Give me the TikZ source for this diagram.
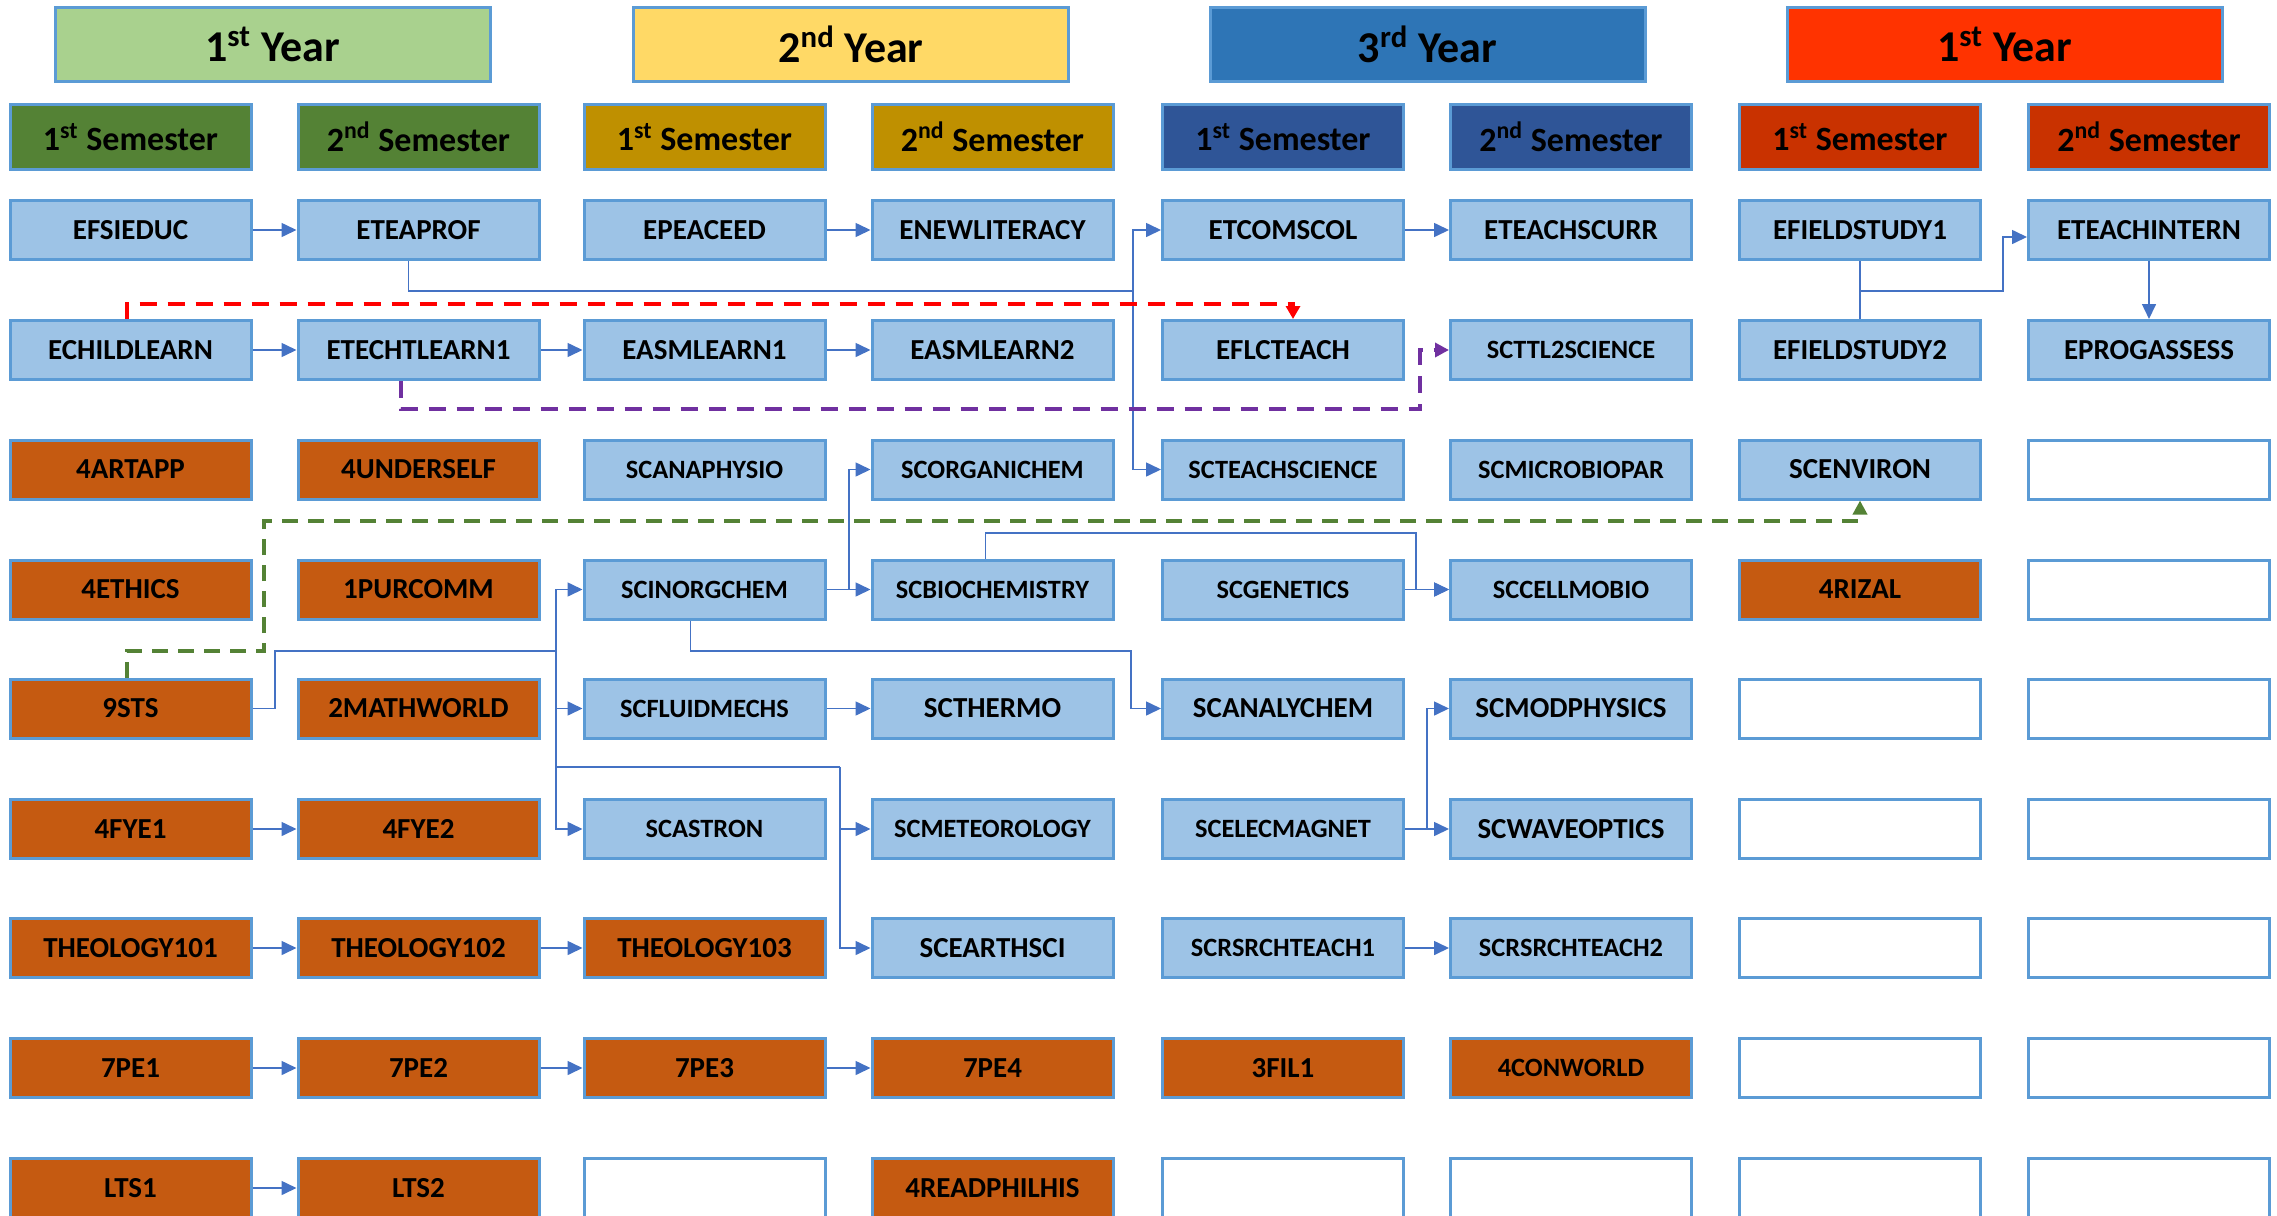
\documentclass[tikz,border=0pt]{standalone}
\usepackage{fontspec}
\setmainfont{Carlito}
\usetikzlibrary{arrows.meta}
\definecolor{bd}{HTML}{5B9BD5}
\definecolor{lb}{HTML}{9DC3E6}
\definecolor{orc}{HTML}{C55A11}
\definecolor{cn}{HTML}{4472C4}
\definecolor{yA}{HTML}{A9D18E}
\definecolor{yB}{HTML}{FFD966}
\definecolor{yC}{HTML}{2E75B6}
\definecolor{yD}{HTML}{FF3300}
\definecolor{sA}{HTML}{548235}
\definecolor{sB}{HTML}{BF9000}
\definecolor{sC}{HTML}{2F5597}
\definecolor{sD}{HTML}{C93200}
\definecolor{gd}{HTML}{548235}
\definecolor{pd}{HTML}{7030A0}
\tikzset{
  box/.style={draw=bd, line width=1.5pt, minimum width=120.5pt, minimum height=29.5pt, inner sep=0pt, text=black, font=\bfseries\fontsize{14.5}{16}\selectfont},
  bluebox/.style={box, fill=lb},
  orbox/.style={box, fill=orc},
  emptybox/.style={box, fill=white},
  sm/.style={font=\bfseries\fontsize{13.2}{15}\selectfont},
  yrbox/.style={draw=bd, line width=1.5pt, minimum width=217.5pt, minimum height=37pt, inner sep=0pt, font=\bfseries\fontsize{22}{24}\selectfont},
  sembox/.style={draw=bd, line width=1.5pt, minimum width=120.5pt, minimum height=32.5pt, inner sep=0pt, font=\bfseries\fontsize{17}{19}\selectfont},
  conn/.style={draw=cn, line width=0.8pt, -{Triangle[length=7.5pt,width=7pt]}},
  plainline/.style={draw=cn, line width=0.8pt},
  reddash/.style={draw=red, line width=2pt, dash pattern=on 8.5pt off 5.5pt, -{Triangle[length=6.5pt,width=7pt]}},
  purpledash/.style={draw=pd, line width=2pt, dash pattern=on 8.5pt off 5.5pt, -{Triangle[length=7pt,width=7pt]}},
  greendash/.style={draw=gd, line width=2pt, dash pattern=on 8pt off 5pt, -{Triangle[length=7pt,width=7pt]}}
}
\begin{document}
\begin{tikzpicture}[x=0.5pt,y=-0.5pt]
\useasboundingbox (0,0) rectangle (2277,1216);
\clip (0,0) rectangle (2277,1216);
% year headers
\node[yrbox, fill=yA] (y1) at (272.5,44) {1\textsuperscript{st} Year};
\node[yrbox, fill=yB] (y2) at (851,44) {2\textsuperscript{nd} Year};
\node[yrbox, fill=yC] (y3) at (1427.5,44) {3\textsuperscript{rd} Year};
\node[yrbox, fill=yD] (y4) at (2004.5,44) {1\textsuperscript{st} Year};
% semester headers
\node[sembox, fill=sA] (s1) at (130.5,137) {1\textsuperscript{st} Semester};
\node[sembox, fill=sA] (s2) at (418.5,137) {2\textsuperscript{nd} Semester};
\node[sembox, fill=sB] (s3) at (704.5,137) {1\textsuperscript{st} Semester};
\node[sembox, fill=sB] (s4) at (992.5,137) {2\textsuperscript{nd} Semester};
\node[sembox, fill=sC] (s5) at (1283,137) {1\textsuperscript{st} Semester};
\node[sembox, fill=sC] (s6) at (1571,137) {2\textsuperscript{nd} Semester};
\node[sembox, fill=sD] (s7) at (1860,137) {1\textsuperscript{st} Semester};
\node[sembox, fill=sD] (s8) at (2149,137) {2\textsuperscript{nd} Semester};
% row 1
\node[bluebox] (efsieduc) at (130.5,230) {EFSIEDUC};
\node[bluebox] (eteaprof) at (418.5,230) {ETEAPROF};
\node[bluebox] (epeaceed) at (704.5,230) {EPEACEED};
\node[bluebox] (enewlit) at (992.5,230) {ENEWLITERACY};
\node[bluebox] (etcomscol) at (1283,230) {ETCOMSCOL};
\node[bluebox] (eteachscurr) at (1571,230) {ETEACHSCURR};
\node[bluebox] (efield1) at (1860,230) {EFIELDSTUDY1};
\node[bluebox] (eteachintern) at (2149,230) {ETEACHINTERN};
% row 2
\node[bluebox] (echild) at (130.5,350) {ECHILDLEARN};
\node[bluebox] (etecht) at (418.5,350) {ETECHTLEARN1};
\node[bluebox] (easm1) at (704.5,350) {EASMLEARN1};
\node[bluebox] (easm2) at (992.5,350) {EASMLEARN2};
\node[bluebox] (eflc) at (1283,350) {EFLCTEACH};
\node[bluebox, sm] (scttl) at (1571,350) {SCTTL2SCIENCE};
\node[bluebox] (efield2) at (1860,350) {EFIELDSTUDY2};
\node[bluebox] (eprog) at (2149,350) {EPROGASSESS};
% row 3
\node[orbox] (artapp) at (130.5,469.5) {4ARTAPP};
\node[orbox] (underself) at (418.5,469.5) {4UNDERSELF};
\node[bluebox, sm] (scanaphysio) at (704.5,469.5) {SCANAPHYSIO};
\node[bluebox, sm] (scorganichem) at (992.5,469.5) {SCORGANICHEM};
\node[bluebox, sm] (scteachsci) at (1283,469.5) {SCTEACHSCIENCE};
\node[bluebox, sm] (scmicrobio) at (1571,469.5) {SCMICROBIOPAR};
\node[bluebox] (scenviron) at (1860,469.5) {SCENVIRON};
\node[emptybox] (e38) at (2149,469.5) {};
% row 4
\node[orbox] (ethics) at (130.5,589.5) {4ETHICS};
\node[orbox] (purcomm) at (418.5,589.5) {1PURCOMM};
\node[bluebox, sm] (scinorg) at (704.5,589.5) {SCINORGCHEM};
\node[bluebox, sm] (scbiochem) at (992.5,589.5) {SCBIOCHEMISTRY};
\node[bluebox, sm] (scgenetics) at (1283,589.5) {SCGENETICS};
\node[bluebox, sm] (sccellmobio) at (1571,589.5) {SCCELLMOBIO};
\node[orbox] (rizal) at (1860,589.5) {4RIZAL};
\node[emptybox] (e48) at (2149,589.5) {};
% row 5
\node[orbox] (sts) at (130.5,708.5) {9STS};
\node[orbox] (mathworld) at (418.5,708.5) {2MATHWORLD};
\node[bluebox, sm] (scfluid) at (704.5,708.5) {SCFLUIDMECHS};
\node[bluebox] (scthermo) at (992.5,708.5) {SCTHERMO};
\node[bluebox] (scanaly) at (1283,708.5) {SCANALYCHEM};
\node[bluebox] (scmodphys) at (1571,708.5) {SCMODPHYSICS};
\node[emptybox] (e57) at (1860,708.5) {};
\node[emptybox] (e58) at (2149,708.5) {};
% row 6
\node[orbox] (fye1) at (130.5,829) {4FYE1};
\node[orbox] (fye2) at (418.5,829) {4FYE2};
\node[bluebox, sm] (scastron) at (704.5,829) {SCASTRON};
\node[bluebox, sm] (scmeteor) at (992.5,829) {SCMETEOROLOGY};
\node[bluebox, sm] (scelec) at (1283,829) {SCELECMAGNET};
\node[bluebox] (scwave) at (1571,829) {SCWAVEOPTICS};
\node[emptybox] (e67) at (1860,829) {};
\node[emptybox] (e68) at (2149,829) {};
% row 7
\node[orbox] (theo1) at (130.5,948) {THEOLOGY101};
\node[orbox] (theo2) at (418.5,948) {THEOLOGY102};
\node[orbox] (theo3) at (704.5,948) {THEOLOGY103};
\node[bluebox] (scearth) at (992.5,948) {SCEARTHSCI};
\node[bluebox, sm] (scrsrch1) at (1283,948) {SCRSRCHTEACH1};
\node[bluebox, sm] (scrsrch2) at (1571,948) {SCRSRCHTEACH2};
\node[emptybox] (e77) at (1860,948) {};
\node[emptybox] (e78) at (2149,948) {};
% row 8
\node[orbox] (pe1) at (130.5,1068) {7PE1};
\node[orbox] (pe2) at (418.5,1068) {7PE2};
\node[orbox] (pe3) at (704.5,1068) {7PE3};
\node[orbox] (pe4) at (992.5,1068) {7PE4};
\node[orbox] (fil1) at (1283,1068) {3FIL1};
\node[orbox, sm] (conworld) at (1571,1068) {4CONWORLD};
\node[emptybox] (e87) at (1860,1068) {};
\node[emptybox] (e88) at (2149,1068) {};
% row 9
\node[orbox] (lts1) at (130.5,1188) {LTS1};
\node[orbox] (lts2) at (418.5,1188) {LTS2};
\node[emptybox] (e93) at (704.5,1188) {};
\node[orbox] (readphil) at (992.5,1188) {4READPHILHIS};
\node[emptybox] (e95) at (1283,1188) {};
\node[emptybox] (e96) at (1571,1188) {};
\node[emptybox] (e97) at (1860,1188) {};
\node[emptybox] (e98) at (2149,1188) {};
% bend coordinates
\coordinate (b1) at (1133,291);
\coordinate (pc1) at (1420,409);
\coordinate (rd1) at (0,304);
\coordinate (g1) at (264,651);
\coordinate (g2) at (264,521);
\coordinate (st1) at (275,651);
\coordinate (sb) at (556,651);
\coordinate (sb2) at (556,767);
\coordinate (me1) at (840,767);
\coordinate (o1) at (849,589.5);
\coordinate (bc1) at (1416,533);
\coordinate (an1) at (1131,651);
\coordinate (em1) at (1427,829);
\coordinate (f1) at (1860,291);
\coordinate (f2) at (2003,291);
% straight arrows
\draw[conn] (efsieduc) -- (eteaprof);
\draw[conn] (epeaceed) -- (enewlit);
\draw[conn] (etcomscol) -- (eteachscurr);
\draw[conn] (echild) -- (etecht);
\draw[conn] (etecht) -- (easm1);
\draw[conn] (easm1) -- (easm2);
\draw[conn] (scinorg) -- (scbiochem);
\draw[conn] (scgenetics) -- (sccellmobio);
\draw[conn] (scfluid) -- (scthermo);
\draw[conn] (scelec) -- (scwave);
\draw[conn] (scrsrch1) -- (scrsrch2);
\draw[conn] (fye1) -- (fye2);
\draw[conn] (theo1) -- (theo2);
\draw[conn] (theo2) -- (theo3);
\draw[conn] (pe1) -- (pe2);
\draw[conn] (pe2) -- (pe3);
\draw[conn] (pe3) -- (pe4);
\draw[conn] (lts1) -- (lts2);
% elbow connectors
\draw[plainline] ([xshift=-5pt]eteaprof.south) |- (b1);
\draw[conn] (b1) |- (etcomscol.west);
\draw[conn] (b1) |- (scteachsci.west);
\draw[plainline] (sts.east) -| (st1) -- (sb);
\draw[conn] (sb) |- (scinorg.west);
\draw[conn] (sb) |- (scfluid.west);
\draw[conn] (sb) |- (scastron.west);
\draw[plainline] (sb2) -- (me1);
\draw[conn] (me1) |- (scmeteor.west);
\draw[conn] (me1) |- (scearth.west);
\draw[conn] (o1) |- (scorganichem.west);
\draw[conn] ([xshift=-3.5pt]scbiochem.north) |- (bc1) |- (sccellmobio.west);
\draw[conn] ([xshift=-7pt]scinorg.south) |- (an1) |- (scanaly.west);
\draw[conn] (em1) |- (scmodphys.west);
\draw[plainline] (efield1) -- (efield2);
\draw[conn] (f1) -- (f2) |- ([yshift=-3.5pt]eteachintern.west);
\draw[conn] (eteachintern) -- (eprog);
% dashed connectors
\draw[reddash] ([xshift=-2pt]echild.north) |- ([xshift=5pt]eflc.north |- rd1) -- ([xshift=5pt]eflc.north);
\draw[purpledash] ([xshift=-9pt]etecht.south) |- (pc1) |- (scttl.west);
\draw[greendash] ([xshift=-2pt]sts.north) |- (g1) -- (g2) -| (scenviron.south);
\end{tikzpicture}
\end{document}
